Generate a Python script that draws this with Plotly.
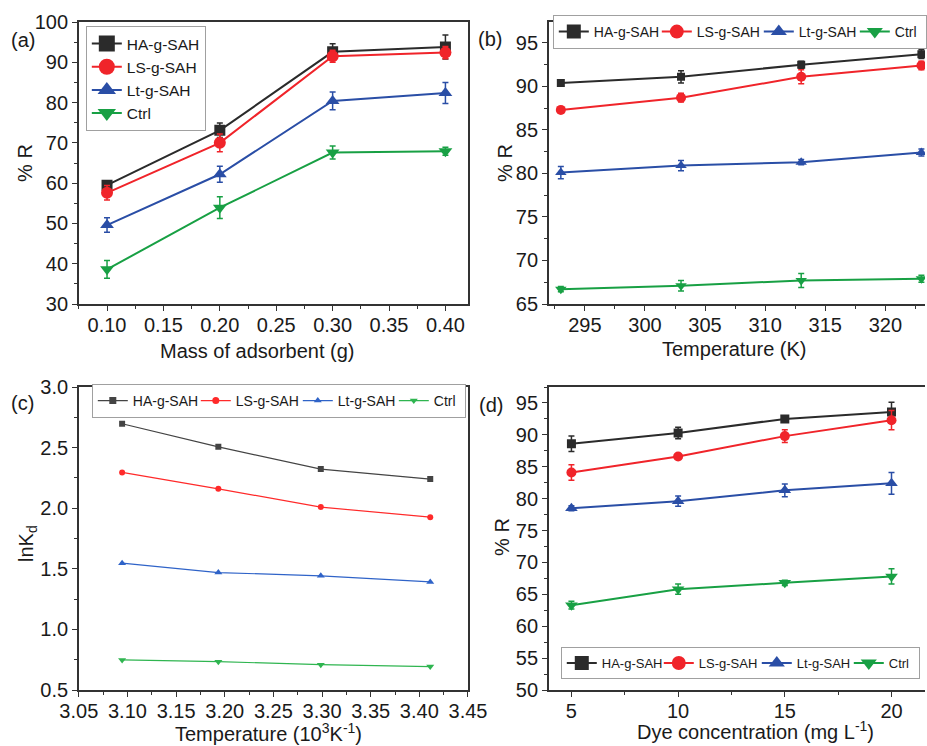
import plotly.graph_objects as go

# ---------------- data ----------------
names = ["HA-g-SAH", "LS-g-SAH", "Lt-g-SAH", "Ctrl"]

# (a) mass of adsorbent
mass = [0.10, 0.20, 0.30, 0.40]
a_HA = [59.5, 73.1, 92.6, 93.8]
a_LS = [57.6, 70.0, 91.5, 92.4]
a_Lt = [49.6, 62.2, 80.4, 82.4]
a_Ctrl = [38.6, 53.9, 67.6, 67.9]
a_HA_err = [1.0, 1.8, 2.0, 3.0]
a_LS_err = [1.8, 2.2, 1.5, 1.5]
a_Lt_err = [1.8, 2.0, 2.2, 2.6]
a_Ctrl_err = [2.2, 2.7, 1.6, 1.0]

# (b) temperature
temp = [293, 303, 313, 323]
b_HA = [90.4, 91.1, 92.5, 93.7]
b_LS = [87.3, 88.7, 91.1, 92.4]
b_Lt = [80.1, 80.9, 81.3, 82.4]
b_Ctrl = [66.7, 67.1, 67.7, 67.9]
b_HA_err = [0.3, 0.7, 0.4, 0.5]
b_LS_err = [0.3, 0.5, 0.8, 0.5]
b_Lt_err = [0.7, 0.6, 0.3, 0.4]
b_Ctrl_err = [0.3, 0.6, 0.8, 0.4]

# (c) ln Kd vs 1000/T
invT = [3.0945, 3.1934, 3.2987, 3.4112]
c_HA = [2.697, 2.506, 2.323, 2.240]
c_LS = [2.295, 2.160, 2.009, 1.926]
c_Lt = [1.546, 1.469, 1.442, 1.392]
c_Ctrl = [0.748, 0.734, 0.709, 0.693]

# (d) dye concentration
conc = [5, 10, 15, 20]
d_HA = [88.6, 90.3, 92.5, 93.6]
d_LS = [84.1, 86.6, 89.8, 92.3]
d_Lt = [78.5, 79.6, 81.3, 82.4]
d_Ctrl = [63.3, 65.8, 66.8, 67.8]
d_HA_err = [1.2, 0.9, 0.4, 1.5]
d_LS_err = [1.2, 0.4, 1.0, 1.5]
d_Lt_err = [0.4, 0.8, 1.0, 1.7]
d_Ctrl_err = [0.6, 0.8, 0.4, 1.2]

# ---------------- style ----------------
W, H = 927, 746
FONT = "Liberation Sans, Arial, sans-serif"
colors = ["#2b2b2b", "#f0242a", "#2a4ea6", "#18a044"]
colors_c = ["#444444", "#ff2a2a", "#2f63c8", "#2fb550"]
symbols = ["square", "circle", "triangle-up", "triangle-down"]
AXC = "#333333"
TXT = "#1a1a1a"


def px(x):
    return x / W


def py(y):
    return 1 - y / H


fig = go.Figure()


def add_panel(xv, ys, errs, xa, ya, legend, msizes, lw, lmsize, cols, lwidths):
    for i, (nm, yv) in enumerate(zip(names, ys)):
        kw = {}
        if errs is not None:
            kw["error_y"] = dict(type="data", array=errs[i], color=cols[i],
                                 thickness=1.5, width=3)
        fig.add_trace(go.Scatter(
            x=xv, y=yv, mode="lines+markers", name=nm,
            line=dict(color=cols[i], width=lw),
            marker=dict(symbol=symbols[i], size=msizes[i], color=cols[i]),
            xaxis=xa, yaxis=ya, showlegend=False, **kw))
        # legend entry (bigger marker, as in the original legend)
        lk = {}
        if lwidths is not None:
            lk["legendwidth"] = lwidths[i]
        fig.add_trace(go.Scatter(
            x=[None], y=[None], mode="lines+markers", name=nm,
            line=dict(color=cols[i], width=lw),
            marker=dict(symbol=symbols[i], size=lmsize, color=cols[i]),
            xaxis=xa, yaxis=ya, showlegend=True, legend=legend, **lk))


add_panel(mass, [a_HA, a_LS, a_Lt, a_Ctrl],
          [a_HA_err, a_LS_err, a_Lt_err, a_Ctrl_err],
          "x", "y", "legend", [11, 12, 12, 12], 2, 16, colors, None)
add_panel(temp, [b_HA, b_LS, b_Lt, b_Ctrl],
          [b_HA_err, b_LS_err, b_Lt_err, b_Ctrl_err],
          "x2", "y2", "legend2", [8, 10, 10, 10], 2, 14, colors, [58, 57, 51, 26])
add_panel(invT, [c_HA, c_LS, c_Lt, c_Ctrl], None,
          "x3", "y3", "legend3", [6, 6, 7, 7], 1.2, 7, colors_c, [58, 57, 51, 26])
add_panel(conc, [d_HA, d_LS, d_Lt, d_Ctrl],
          [d_HA_err, d_LS_err, d_Lt_err, d_Ctrl_err],
          "x4", "y4", "legend4", [9, 10, 11, 11], 2, 14, colors, [52, 53, 47, 25])


def axis(domain, rng, dtick, minor, anchor, fmt=None, mirror=True, xax=False):
    d = dict(domain=domain, range=rng, dtick=dtick, tick0=0,
             showgrid=False, zeroline=False, showline=True,
             linecolor=AXC, linewidth=1.5, mirror=mirror,
             ticks="outside", ticklen=5, tickwidth=1.3, tickcolor=AXC,
             minor=dict(ticks="outside", ticklen=3, tickwidth=1, tickcolor=AXC,
                        dtick=minor, tick0=0, showgrid=False),
             tickfont=dict(family=FONT, size=20, color=TXT),
             anchor=anchor, automargin=False)
    if xax:
        d["ticklabelstandoff"] = -3
    if fmt:
        d["tickformat"] = fmt
    return d


xa_dom = [px(79), px(469)]
xb_dom = [px(550), 1.0]
top_dom = [py(304), py(22)]
bot_dom = [py(690), py(387)]

legend_common = dict(bgcolor="white", bordercolor="#a0a0a0", borderwidth=1,
                     font=dict(family=FONT, size=14, color=TXT),
                     xanchor="left", yanchor="top", xref="paper", yref="paper",
                     itemwidth=30, tracegroupgap=0)

fig.update_layout(
    width=W, height=H,
    margin=dict(l=0, r=0, t=0, b=0),
    paper_bgcolor="white", plot_bgcolor="white",
    font=dict(family=FONT, color=TXT),
    xaxis=axis(xa_dom, [0.075, 0.42], 0.05, 0.025, "y", ".2f", xax=True),
    yaxis=axis(top_dom, [30, 100], 10, 5, "x"),
    xaxis2=axis(xb_dom, [292, 323.3], 5, 2.5, "y2", xax=True),
    yaxis2=axis(top_dom, [65, 97.4], 5, 2.5, "x2", mirror=False),
    xaxis3=axis(xa_dom, [3.05, 3.45], 0.05, 0.025, "y3", ".2f", xax=True),
    yaxis3=axis(bot_dom, [0.5, 3.0], 0.5, 0.25, "x3", ".1f"),
    xaxis4=axis(xb_dom, [3.94, 21.57], 5, 2.5, "y4", xax=True),
    yaxis4=axis(bot_dom, [50, 97.5], 5, 2.5, "x4", mirror=False),
    legend=dict(legend_common, x=px(86), y=py(26), orientation="v",
                font=dict(family=FONT, size=15.5, color=TXT)),
    legend2=dict(legend_common, x=px(554), y=py(15), orientation="h"),
    legend3=dict(legend_common, x=px(92), y=py(384), orientation="h"),
    legend4=dict(legend_common, x=px(562), y=py(647), orientation="h",
                 font=dict(family=FONT, size=13, color=TXT)),
)

ann = [
    # axis titles: (text, x, y, angle, yanchor)
    ("Mass of adsorbent (g)", 258, 351, 0, "middle"),
    ("Temperature (K)", 736, 349, 0, "middle"),
    ("Temperature (10<sup>3</sup>K<sup>-1</sup>)", 269, 746, 0, "bottom"),
    ("Dye concentration (mg L<sup>-1</sup>)", 757, 744, 0, "bottom"),
    ("% R", 25, 163, -90, "middle"),
    ("% R", 506, 163, -90, "middle"),
    ("lnK<sub>d</sub>", 27, 543, -90, "middle"),
    ("% R", 503, 537, -90, "middle"),
    # panel labels
    ("(a)", 23, 40, 0, "middle"),
    ("(b)", 491, 39, 0, "middle"),
    ("(c)", 23, 403, 0, "middle"),
    ("(d)", 492, 405, 0, "middle"),
]
for text, x, y, ang, ya in ann:
    fig.add_annotation(text=text, x=px(x), y=py(y), xref="paper", yref="paper",
                       showarrow=False, textangle=ang, xanchor="center",
                       yanchor=ya, borderpad=0,
                       font=dict(family=FONT, size=20, color=TXT))

fig.write_html("out.html")
